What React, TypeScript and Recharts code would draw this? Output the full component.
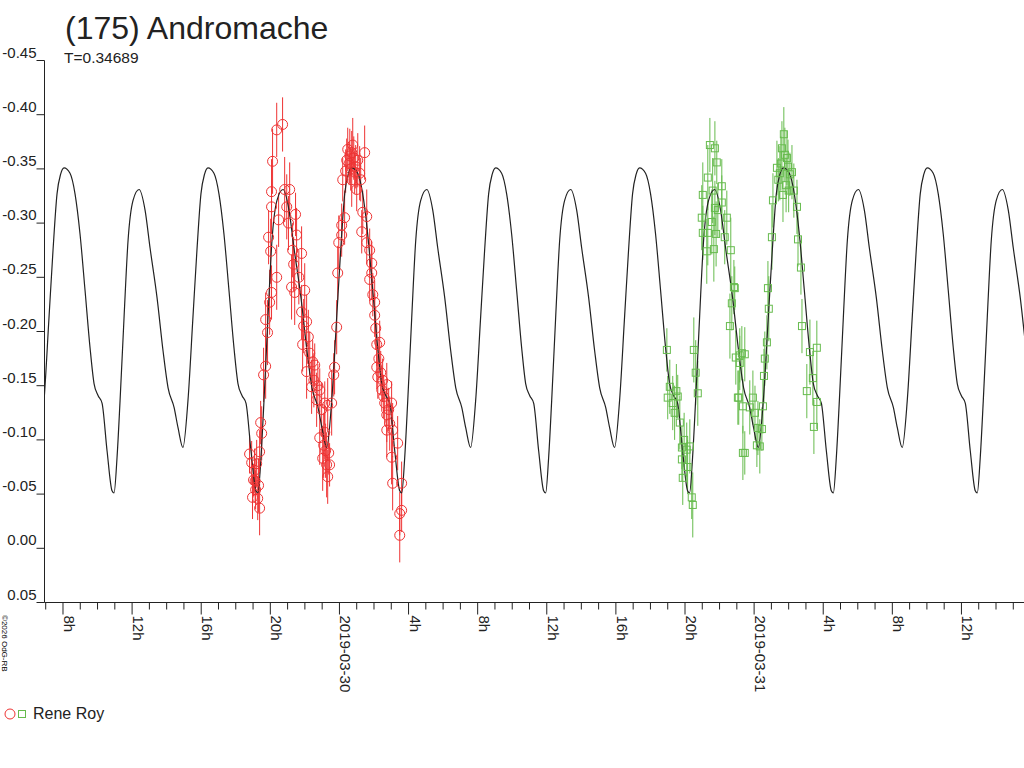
// Lightcurve of (175) Andromache: Fourier model plus two nights of photometry.
import * as React from 'react';
import { ComposedChart, Line, Scatter, ErrorBar, XAxis, YAxis } from 'recharts';

const RED = '#ee3333';
const GREEN = '#66bb4d';
const INK = '#222222';
const FONT = '"Liberation Sans", Arial, sans-serif';

// hours since 2019-03-29 00:00
const xDomain: [number, number] = [6.93, 63.62];
const minorHours = Array.from({ length: 57 }, (_, i) => 7 + i);
const majorLabels: Record<number, string> = {
  8: '8h', 12: '12h', 16: '16h', 20: '20h', 24: '2019-03-30', 28: '4h',
  32: '8h', 36: '12h', 40: '16h', 44: '20h', 48: '2019-03-31', 52: '4h',
  56: '8h', 60: '12h',
};

const magTicks = [-0.45, -0.4, -0.35, -0.3, -0.25, -0.2, -0.15, -0.1, -0.05, 0, 0.05];
const magLabels = ['-0.45', '-0.40', '-0.35', '-0.30', '-0.25', '-0.20', '-0.15', '-0.10', '-0.05', '0.00', '0.05'];

// one cycle of the model: [hours from main maximum, mag]
const curveShape: [number, number][] = [
  [-1.448, -0.093], [-1.158, -0.136], [-0.869, -0.213], [-0.637, -0.275],
  [-0.405, -0.327], [-0.2, -0.345], [0, -0.351], [0.347, -0.346],
  [0.637, -0.327], [0.926, -0.29], [1.216, -0.238], [1.506, -0.185],
  [1.737, -0.152], [1.969, -0.141], [2.2, -0.134], [2.49, -0.09],
  [2.779, -0.053], [2.895, -0.051], [3.069, -0.084], [3.243, -0.136],
  [3.474, -0.213], [3.706, -0.284], [3.995, -0.321], [4.343, -0.331],
  [4.69, -0.312], [4.98, -0.277], [5.385, -0.231], [5.732, -0.182],
  [6.022, -0.148], [6.369, -0.13], [6.601, -0.111],
];
// main maxima seen in the plot
const peakHours = [8.06, 16.39, 24.71, 33.04, 41.37, 49.69, 58.02];

// [hour, mag, error]
const night1: [number, number, number][] = [
  [18.8, -0.087, 0.018], [18.92, -0.079, 0.02], [18.97, -0.047, 0.02], [19.03, -0.063, 0.015],
  [19.09, -0.072, 0.02], [19.12, -0.062, 0.02], [19.15, -0.054, 0.018], [19.21, -0.078, 0.022],
  [19.27, -0.046, 0.02], [19.32, -0.058, 0.025], [19.38, -0.037, 0.025], [19.38, -0.089, 0.02],
  [19.44, -0.116, 0.02], [19.5, -0.106, 0.025], [19.61, -0.16, 0.025], [19.73, -0.168, 0.03],
  [19.73, -0.211, 0.025], [19.84, -0.199, 0.03], [19.9, -0.287, 0.025], [19.96, -0.227, 0.03],
  [20.02, -0.274, 0.03], [20.07, -0.236, 0.025], [20.07, -0.329, 0.03], [20.07, -0.315, 0.025],
  [20.13, -0.357, 0.03], [20.37, -0.25, 0.03], [20.37, -0.386, 0.025], [20.48, -0.303, 0.025],
  [20.71, -0.391, 0.025], [20.83, -0.331, 0.03], [20.95, -0.315, 0.03], [21.05, -0.3, 0.025],
  [21.12, -0.331, 0.025], [21.23, -0.241, 0.03], [21.29, -0.275, 0.025], [21.35, -0.262, 0.025],
  [21.41, -0.236, 0.03], [21.46, -0.308, 0.02], [21.52, -0.289, 0.025], [21.65, -0.25, 0.025],
  [21.81, -0.272, 0.025], [21.81, -0.218, 0.025], [21.87, -0.188, 0.025], [21.93, -0.205, 0.025],
  [21.99, -0.238, 0.025], [22.1, -0.209, 0.025], [22.1, -0.163, 0.025], [22.2, -0.195, 0.025],
  [22.28, -0.18, 0.02], [22.39, -0.149, 0.025], [22.45, -0.172, 0.02], [22.52, -0.155, 0.025],
  [22.57, -0.169, 0.02], [22.68, -0.137, 0.025], [22.75, -0.15, 0.02], [22.86, -0.146, 0.02],
  [22.86, -0.102, 0.025], [22.97, -0.128, 0.025], [23.03, -0.083, 0.03], [23.09, -0.095, 0.03],
  [23.15, -0.134, 0.02], [23.15, -0.107, 0.025], [23.2, -0.09, 0.025], [23.26, -0.077, 0.03],
  [23.32, -0.132, 0.025], [23.32, -0.066, 0.025], [23.38, -0.088, 0.02], [23.43, -0.077, 0.02],
  [23.55, -0.134, 0.03], [23.67, -0.16, 0.02], [23.72, -0.167, 0.025], [23.84, -0.204, 0.025],
  [23.9, -0.254, 0.025], [23.96, -0.282, 0.025], [24.13, -0.289, 0.02], [24.13, -0.298, 0.02],
  [24.19, -0.34, 0.02], [24.3, -0.305, 0.025], [24.36, -0.348, 0.02], [24.42, -0.358, 0.02],
  [24.48, -0.368, 0.02], [24.56, -0.355, 0.02], [24.6, -0.362, 0.025], [24.65, -0.35, 0.02],
  [24.71, -0.365, 0.02], [24.71, -0.34, 0.025], [24.77, -0.372, 0.025], [24.83, -0.36, 0.02],
  [24.88, -0.347, 0.02], [24.94, -0.352, 0.02], [25.0, -0.331, 0.02], [25.06, -0.358, 0.025],
  [25.17, -0.346, 0.025], [25.23, -0.34, 0.02], [25.29, -0.292, 0.02], [25.35, -0.31, 0.02],
  [25.46, -0.365, 0.025], [25.58, -0.306, 0.025], [25.58, -0.282, 0.02], [25.75, -0.275, 0.02],
  [25.75, -0.248, 0.02], [25.87, -0.263, 0.02], [25.87, -0.254, 0.025], [25.93, -0.234, 0.02],
  [26.04, -0.227, 0.02], [26.04, -0.215, 0.02], [26.1, -0.203, 0.02], [26.16, -0.188, 0.02],
  [26.16, -0.167, 0.02], [26.22, -0.158, 0.02], [26.28, -0.175, 0.02], [26.33, -0.19, 0.02],
  [26.39, -0.162, 0.02], [26.45, -0.146, 0.02], [26.5, -0.155, 0.02], [26.56, -0.14, 0.02],
  [26.62, -0.134, 0.02], [26.74, -0.151, 0.02], [26.74, -0.123, 0.025], [26.74, -0.109, 0.025],
  [26.85, -0.128, 0.02], [26.91, -0.115, 0.025], [27.02, -0.134, 0.02], [27.02, -0.084, 0.025],
  [27.08, -0.109, 0.025], [27.08, -0.06, 0.025], [27.37, -0.097, 0.025], [27.49, -0.032, 0.02],
  [27.49, -0.012, 0.025], [27.6, -0.06, 0.02], [27.6, -0.035, 0.02],
];

const night2: [number, number, number][] = [
  [42.95, -0.183, 0.02], [43.0, -0.139, 0.02], [43.12, -0.149, 0.025], [43.29, -0.134, 0.025],
  [43.4, -0.125, 0.025], [43.5, -0.145, 0.025], [43.58, -0.14, 0.02], [43.7, -0.116, 0.025],
  [43.82, -0.093, 0.02], [43.82, -0.082, 0.02], [43.87, -0.065, 0.025], [43.95, -0.1, 0.025],
  [44.1, -0.091, 0.025], [44.15, -0.075, 0.025], [44.28, -0.094, 0.025], [44.39, -0.047, 0.02],
  [44.45, -0.04, 0.03], [44.51, -0.183, 0.03], [44.62, -0.162, 0.03], [44.74, -0.143, 0.03],
  [44.97, -0.305, 0.03], [45.03, -0.326, 0.03], [45.03, -0.291, 0.025], [45.26, -0.274, 0.03],
  [45.32, -0.291, 0.03], [45.32, -0.342, 0.03], [45.44, -0.372, 0.025], [45.55, -0.301, 0.03],
  [45.6, -0.33, 0.03], [45.67, -0.276, 0.03], [45.73, -0.369, 0.025], [45.73, -0.314, 0.025],
  [45.8, -0.29, 0.03], [45.84, -0.356, 0.02], [45.9, -0.312, 0.025], [46.13, -0.334, 0.025],
  [46.13, -0.319, 0.025], [46.3, -0.287, 0.025], [46.42, -0.305, 0.025], [46.6, -0.205, 0.03],
  [46.65, -0.275, 0.03], [46.71, -0.226, 0.025], [46.83, -0.241, 0.025], [46.88, -0.24, 0.02],
  [46.94, -0.176, 0.025], [47.06, -0.139, 0.025], [47.11, -0.139, 0.025], [47.17, -0.171, 0.025],
  [47.17, -0.178, 0.025], [47.29, -0.18, 0.025], [47.35, -0.088, 0.025], [47.35, -0.131, 0.025],
  [47.46, -0.088, 0.02], [47.46, -0.179, 0.025], [47.75, -0.13, 0.025], [47.93, -0.139, 0.025],
  [48.05, -0.125, 0.025], [48.16, -0.095, 0.02], [48.22, -0.111, 0.025], [48.33, -0.094, 0.025],
  [48.45, -0.11, 0.02], [48.51, -0.131, 0.025], [48.57, -0.159, 0.025], [48.62, -0.175, 0.025],
  [48.74, -0.19, 0.025], [48.8, -0.24, 0.025], [48.85, -0.221, 0.03], [49.03, -0.287, 0.03],
  [49.09, -0.321, 0.025], [49.32, -0.351, 0.025], [49.4, -0.34, 0.02], [49.49, -0.346, 0.025],
  [49.55, -0.355, 0.025], [49.61, -0.369, 0.025], [49.67, -0.326, 0.025], [49.72, -0.382, 0.025],
  [49.78, -0.363, 0.025], [49.85, -0.335, 0.025], [49.9, -0.36, 0.025], [49.96, -0.352, 0.025],
  [50.0, -0.33, 0.02], [50.07, -0.345, 0.02], [50.19, -0.347, 0.025], [50.3, -0.33, 0.025],
  [50.48, -0.315, 0.025], [50.54, -0.285, 0.025], [50.71, -0.259, 0.025], [50.77, -0.205, 0.025],
  [51.05, -0.145, 0.025], [51.23, -0.181, 0.03], [51.4, -0.157, 0.025], [51.46, -0.112, 0.025],
  [51.63, -0.185, 0.025], [51.63, -0.135, 0.025],
];

const curve = peakHours.flatMap((p) => curveShape.map(([dt, m]) => ({ h: p + dt, m })));
const toPoints = (rows: [number, number, number][]) => rows.map(([h, m, e]) => ({ h, m, e }));

function XTick(props: any) {
  const { x, y, payload } = props;
  const label = majorLabels[payload.value];
  if (!label) {
    return <line x1={x} x2={x} y1={y} y2={y + 7} stroke={INK} />;
  }
  return (
    <g>
      <line x1={x} x2={x} y1={y} y2={y + 12} stroke={INK} />
      <text
        x={x + 1}
        y={y + 13}
        transform={`rotate(90 ${x + 1} ${y + 13})`}
        fontSize={15}
        fontFamily={FONT}
        fill={INK}
      >
        {label}
      </text>
    </g>
  );
}

function YTick(props: any) {
  const { x, y, payload } = props;
  const i = magTicks.indexOf(payload.value);
  return (
    <g>
      <line x1={x - 8} x2={x} y1={y} y2={y} stroke={INK} />
      <text x={x - 8} y={y - 3} textAnchor='end' fontSize={15} fontFamily={FONT} fill={INK}>
        {magLabels[i]}
      </text>
    </g>
  );
}

const circleShape = (p: any) => <circle cx={p.cx} cy={p.cy} r={5} fill='none' stroke={RED} strokeWidth={1} />;
const squareShape = (p: any) => (
  <rect x={p.cx - 3.5} y={p.cy - 3.5} width={7} height={7} fill='none' stroke={GREEN} strokeWidth={1} />
);

export default function App() {
  return (
    <div style={{ position: 'absolute', left: 0, top: 0, width: 1024, height: 768, background: '#fff' }}>
      <ComposedChart width={1024} height={768} margin={{ top: 60.5, right: 0, bottom: 135.5, left: 0 }}>
        <XAxis
          type='number'
          dataKey='h'
          domain={xDomain}
          allowDataOverflow
          ticks={minorHours}
          interval={0}
          tick={<XTick />}
          tickLine={false}
          tickSize={0}
          tickMargin={0}
          height={30}
          axisLine={{ stroke: INK }}
        />
        <YAxis
          type='number'
          dataKey='m'
          domain={[-0.45, 0.05]}
          reversed
          allowDataOverflow
          ticks={magTicks}
          interval={0}
          tick={<YTick />}
          tickLine={false}
          tickSize={0}
          tickMargin={0}
          width={44.5}
          axisLine={{ stroke: INK }}
        />
        <Scatter data={toPoints(night1)} dataKey='m' shape={circleShape} isAnimationActive={false}>
          <ErrorBar dataKey='e' direction='y' width={0} stroke={RED} strokeWidth={1} />
        </Scatter>
        <Scatter data={toPoints(night2)} dataKey='m' shape={squareShape} isAnimationActive={false}>
          <ErrorBar dataKey='e' direction='y' width={0} stroke={GREEN} strokeWidth={1} />
        </Scatter>
        <Line
          data={curve}
          dataKey='m'
          type='monotone'
          dot={false}
          stroke={INK}
          strokeWidth={1.2}
          isAnimationActive={false}
        />
      </ComposedChart>
      <svg width={1024} height={768} style={{ position: 'absolute', left: 0, top: 0, pointerEvents: 'none' }}>
        <text x={65} y={38.5} fontSize={32} fontFamily={FONT} fill={INK}>
          (175) Andromache
        </text>
        <text x={64} y={63} fontSize={15.5} fontFamily={FONT} fill={INK}>
          T=0.34689
        </text>
        <text x={1.5} y={615} transform='rotate(90 1.5 615)' fontSize={8} fontFamily={FONT} fill='#000'>
          ©2026 OdG-RB
        </text>
        <circle cx={10} cy={714} r={5} fill='none' stroke={RED} />
        <rect x={18.5} y={710.5} width={7} height={7} fill='none' stroke={GREEN} />
        <text x={33} y={719} fontSize={16} fontFamily={FONT} fill={INK}>
          Rene Roy
        </text>
      </svg>
    </div>
  );
}
